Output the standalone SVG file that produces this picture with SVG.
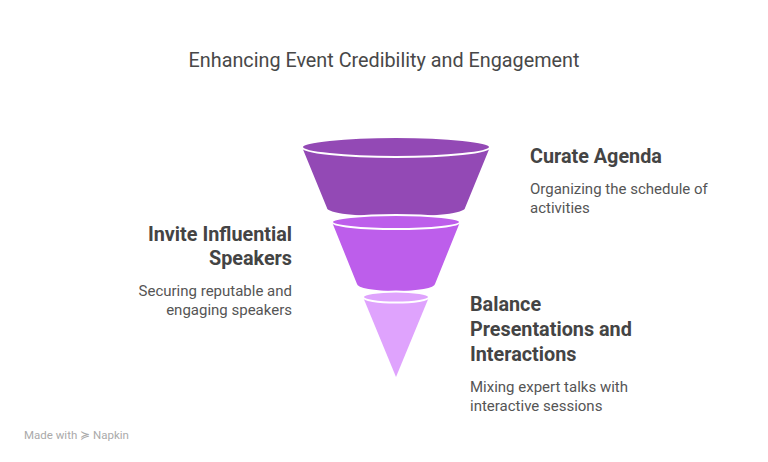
<svg xmlns="http://www.w3.org/2000/svg" width="768" height="462" viewBox="0 0 768 462">
<style>
text{font-family:Roboto,"Liberation Sans",sans-serif;fill:#444}
.t{font-size:19.8px;fill:#484848}
.h{font-size:19.8px;font-weight:bold}
.d{font-size:15px;fill:#555}
.sep{stroke:#fff;stroke-width:2}
</style>
<rect width="768" height="462" fill="#fff"/>
<text class="t" x="384" y="67" text-anchor="middle">Enhancing Event Credibility and Engagement</text>
<g id="connectors"/>
<g id="n1">
<path d="M302,147 L327,208 A69,9 0 0 0 465,208 L490,147 Z" fill="#9349B5"/>
<ellipse cx="396" cy="147" rx="94" ry="10" fill="#9349B5" class="sep"/>
</g>
<g id="n2">
<path d="M332,222 L357,284 A39,7 0 0 0 435,284 L460,222 Z" fill="#BD5EEB"/>
<ellipse cx="396" cy="222" rx="64" ry="7" fill="#BD5EEB" class="sep"/>
</g>
<g id="n3">
<path d="M363,297 L396,377 L429,297 Z" fill="#DFA3FD"/>
<ellipse cx="396" cy="297" rx="33" ry="5.5" fill="#DFA3FD" class="sep"/>
</g>
<g id="l1">
<text class="h" x="530" y="163">Curate Agenda</text>
<text class="d" x="530" y="194">Organizing the schedule of</text>
<text class="d" x="530" y="213">activities</text>
</g>
<g id="l2" text-anchor="end">
<text class="h" x="292" y="241">Invite Influential</text>
<text class="h" x="292" y="265">Speakers</text>
<text class="d" x="292" y="296">Securing reputable and</text>
<text class="d" x="292" y="315">engaging speakers</text>
</g>
<g id="l3">
<text class="h" x="470" y="311">Balance</text>
<text class="h" x="470" y="336">Presentations and</text>
<text class="h" x="470" y="361">Interactions</text>
<text class="d" x="470" y="392">Mixing expert talks with</text>
<text class="d" x="470" y="411">interactive sessions</text>
</g>
<text x="24" y="439" style="font-size:11.5px;fill:#aaa">Made with ≽ Napkin</text>
</svg>
